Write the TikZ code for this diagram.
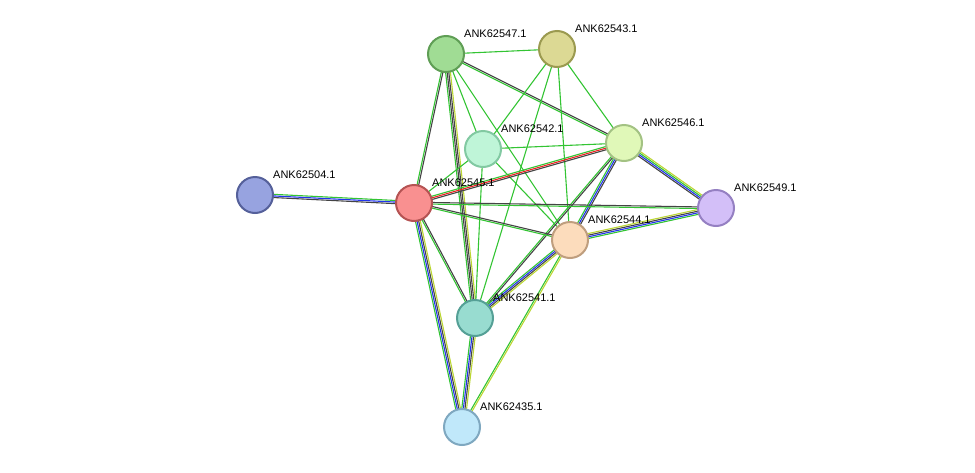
\documentclass[tikz,border=0pt]{standalone}
\usepackage{fontspec}
\setmainfont{Liberation Sans}
\usetikzlibrary{calc}
\definecolor{eg}{HTML}{33C433}
\definecolor{ek}{HTML}{444444}
\definecolor{eb}{HTML}{2233EE}
\definecolor{ey}{HTML}{BBD633}
\definecolor{er}{HTML}{EE2222}
\newcommand\medge[4]{%
 \foreach \c [count=\i] in {#4} {%
  \pgfmathsetmacro\off{(\i-(#3+1)/2)*1.6}
  \draw[line width=1.1pt,color=\c] ($(#1)!\off pt!90:(#2)$) -- ($(#2)!\off pt!-90:(#1)$);
 }}
\tikzset{prot/.style={circle,minimum size=36pt,line width=2pt,inner sep=0pt},
 lab/.style={anchor=south west,font=\fontsize{11}{13}\selectfont,inner sep=0pt}}
\begin{document}
\begin{tikzpicture}[x=1pt,y=-1pt]
\useasboundingbox (0,0) rectangle (975,472);
\coordinate (p547) at (446,54);
\coordinate (p543) at (557,49);
\coordinate (p542) at (483,149);
\coordinate (p546) at (624,143);
\coordinate (p504) at (255,195);
\coordinate (p545) at (414,203);
\coordinate (p549) at (716,208);
\coordinate (p544) at (570,240);
\coordinate (p541) at (475,318);
\coordinate (p435) at (462,427);
\medge{p547}{p543}{1}{eg}
\medge{p547}{p546}{2}{eg,ek}
\medge{p547}{p542}{1}{eg}
\medge{p547}{p544}{1}{eg}
\medge{p547}{p545}{2}{eg,ek}
\medge{p547}{p541}{4}{eg,ek,ek,ey}
\medge{p543}{p542}{1}{eg}
\medge{p543}{p541}{1}{eg}
\medge{p543}{p544}{1}{eg}
\medge{p543}{p546}{1}{eg}
\medge{p542}{p546}{1}{eg}
\medge{p542}{p545}{1}{eg}
\medge{p542}{p544}{1}{eg}
\medge{p542}{p541}{1}{eg}
\medge{p546}{p545}{3}{eg,er,ek}
\medge{p546}{p549}{4}{ek,eb,eg,ey}
\medge{p546}{p544}{3}{eg,eb,ek}
\medge{p546}{p541}{2}{eg,ek}
\medge{p545}{p549}{2}{eg,ek}
\medge{p545}{p544}{2}{eg,ek}
\medge{p545}{p541}{2}{eg,ek}
\medge{p545}{p435}{4}{eg,eb,ek,ey}
\medge{p545}{p504}{3}{eg,eb,ek}
\medge{p544}{p549}{4}{eg,eb,ek,ey}
\medge{p544}{p541}{4}{eg,eb,ek,ey}
\medge{p544}{p435}{2}{eg,ey}
\medge{p541}{p435}{4}{eg,eb,ek,ey}
\node[prot,fill={rgb,255:red,160;green,220;blue,148},draw={rgb,255:red,95;green,158;blue,85}] (n547) at (p547) {};
\node[prot,fill={rgb,255:red,220;green,217;blue,148},draw={rgb,255:red,155;green,154;blue,80}] (n543) at (p543) {};
\node[prot,fill={rgb,255:red,191;green,245;blue,216},draw={rgb,255:red,130;green,201;blue,162}] (n542) at (p542) {};
\node[prot,fill={rgb,255:red,224;green,248;blue,184},draw={rgb,255:red,163;green,194;blue,131}] (n546) at (p546) {};
\node[prot,fill={rgb,255:red,151;green,163;blue,224},draw={rgb,255:red,85;green,96;blue,154}] (n504) at (p504) {};
\node[prot,fill={rgb,255:red,249;green,144;blue,144},draw={rgb,255:red,181;green,83;blue,83}] (n545) at (p545) {};
\node[prot,fill={rgb,255:red,211;green,191;blue,248},draw={rgb,255:red,149;green,128;blue,194}] (n549) at (p549) {};
\node[prot,fill={rgb,255:red,252;green,220;blue,188},draw={rgb,255:red,191;green,158;blue,126}] (n544) at (p544) {};
\node[prot,fill={rgb,255:red,152;green,220;blue,208},draw={rgb,255:red,85;green,160;blue,150}] (n541) at (p541) {};
\node[prot,fill={rgb,255:red,192;green,232;blue,250},draw={rgb,255:red,127;green,168;blue,192}] (n435) at (p435) {};
\node[lab] at ($(p547)+(18,-16)$) {ANK62547.1};
\node[lab] at ($(p543)+(18,-16)$) {ANK62543.1};
\node[lab] at ($(p542)+(18,-16)$) {ANK62542.1};
\node[lab] at ($(p546)+(18,-16)$) {ANK62546.1};
\node[lab] at ($(p504)+(18,-16)$) {ANK62504.1};
\node[lab] at ($(p545)+(18,-16)$) {ANK62545.1};
\node[lab] at ($(p549)+(18,-16)$) {ANK62549.1};
\node[lab] at ($(p544)+(18,-16)$) {ANK62544.1};
\node[lab] at ($(p541)+(18,-16)$) {ANK62541.1};
\node[lab] at ($(p435)+(18,-16)$) {ANK62435.1};
\end{tikzpicture}
\end{document}
